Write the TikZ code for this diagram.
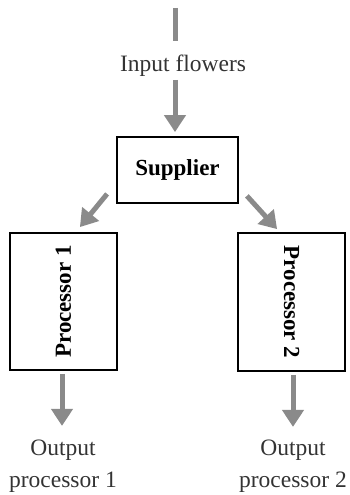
\documentclass[tikz,border=0pt]{standalone}
\usepackage{fontspec}
\setmainfont{Liberation Serif}
\usetikzlibrary{arrows.meta}
\definecolor{arrowgray}{HTML}{8A8A8A}
\definecolor{textgray}{HTML}{333333}
\begin{document}
\begin{tikzpicture}[x=1pt,y=-1pt,
  boxnode/.style={draw=black,line width=1.8pt,fill=white,inner sep=0pt,font=\fontsize{23}{27}\selectfont\bfseries},
  rottext/.style={inner sep=0pt,font=\fontsize{23}{27}\selectfont\bfseries},
  labelnode/.style={inner sep=0pt,align=center,text=textgray,font=\fontsize{23.5}{32}\selectfont},
  gline/.style={draw=arrowgray,line width=5pt},
  garrow/.style={gline,-{Triangle[width=21pt,length=17pt]}}]
\useasboundingbox (0,0) rectangle (350,495);
\node[boxnode,minimum width=121pt,minimum height=66pt] (sup) at (177.5,170) {Supplier};
\node[boxnode,minimum width=107pt,minimum height=137pt] (p1) at (63.5,301.5) {};
\node[rottext,rotate=90] (p1t) at (p1.center) {Processor 1};
\node[boxnode,minimum width=107pt,minimum height=138pt] (p2) at (291.5,302) {};
\node[rottext,rotate=-90] (p2t) at (p2.center) {Processor 2};
\node[labelnode] (in) at (183,66) {Input flowers};
\node[labelnode] (o1) at (63,466) {Output\\processor 1};
\node[labelnode] (o2) at (293,466) {Output\\processor 2};
\coordinate (t1) at (175,8);
\coordinate (t2) at (175,41);
\draw[gline] (t1) -- (t2);
\draw[garrow] (in.south -| t1) ++(0,3) -- ([shift={(-2.5,-4)}]sup.north);
\draw[garrow] ([shift={(-9,-10)}]sup.south west) -- ([shift={(-38,-5)}]p1.north east);
\draw[garrow] ([shift={(8,-8)}]sup.south east) -- ([shift={(40,-3)}]p2.north west);
\draw[garrow] ([shift={(-1.5,3)}]p1.south) -- ([shift={(-1.5,55)}]p1.south);
\draw[garrow] ([shift={(1.5,3)}]p2.south) -- ([shift={(1.5,55)}]p2.south);
\end{tikzpicture}
\end{document}
